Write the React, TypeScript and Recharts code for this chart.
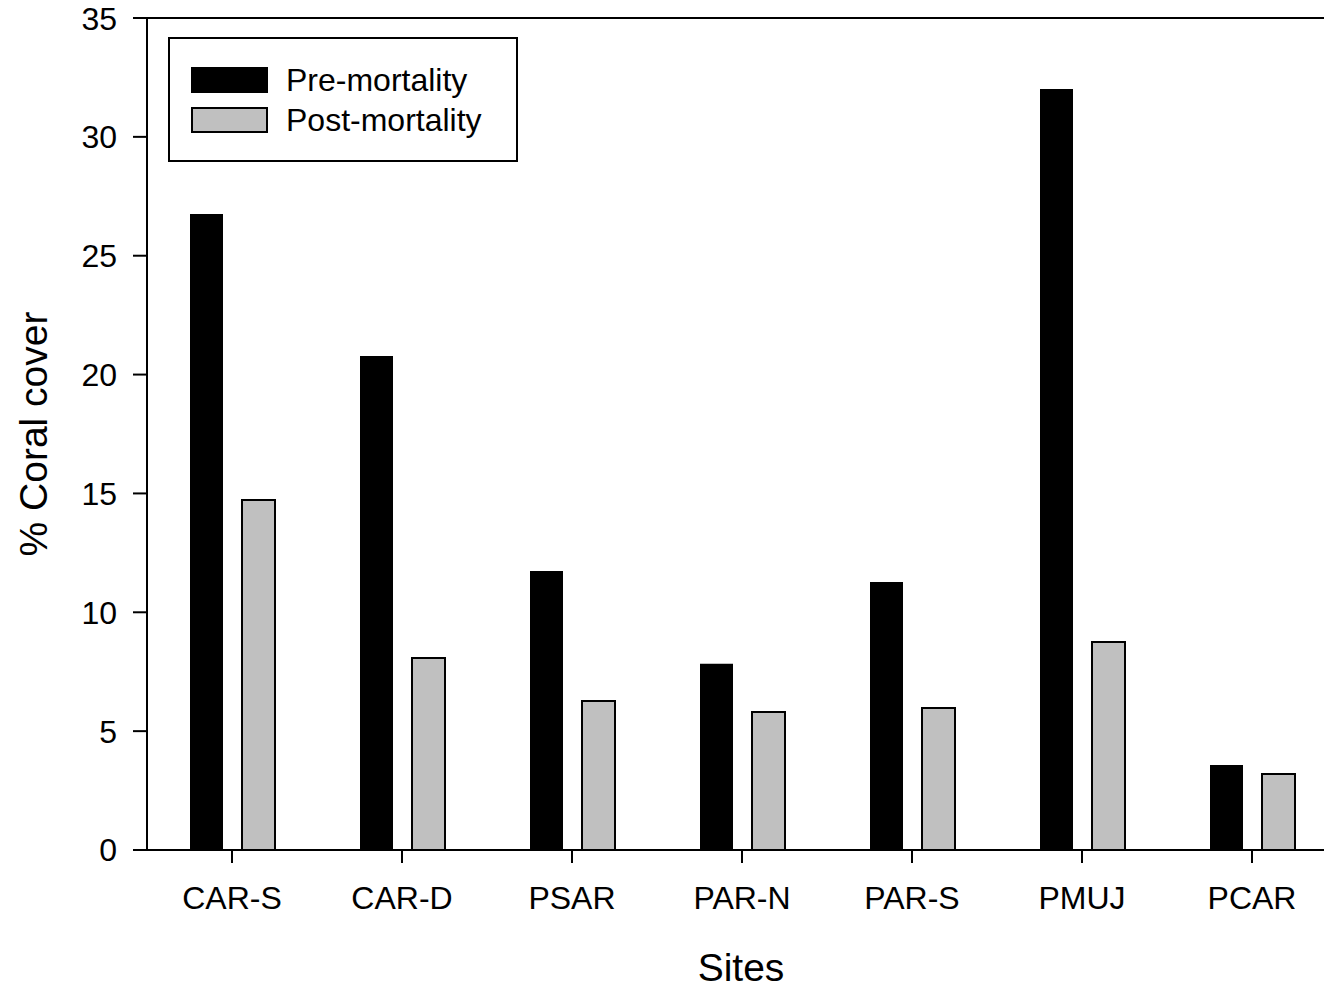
import React from "react";
import {
  Bar,
  XAxis,
  YAxis,
  BarChart,
  ReferenceLine,
} from "recharts";

const sites = ["CAR-S", "CAR-D", "PSAR", "PAR-N", "PAR-S", "PMUJ", "PCAR"];
const preMortality = [26.75, 20.78, 11.74, 7.83, 11.27, 32.01, 3.58];
const postMortality = [14.72, 8.08, 6.27, 5.81, 5.97, 8.75, 3.2];
const yTicks = [0, 5, 10, 15, 20, 25, 30, 35];

const seriesNames = ["Pre-mortality", "Post-mortality"];
const seriesFills = ["#000", "#c0c0c0"];

const FONT = '"Liberation Sans", Arial, sans-serif';

const data = sites.map((site, i) => ({
  site,
  pre: preMortality[i],
  post: postMortality[i],
}));

// boxed legend in the upper left corner of the plot
const LegendBox = () => (
  <svg
    width={350}
    height={125}
    style={{ position: "absolute", left: 168, top: 37, display: "block" }}
  >
    <rect x={1} y={1} width={348} height={123} fill="#fff" stroke="#000" strokeWidth={2} />
    {seriesNames.map((name, i) => (
      <g key={name}>
        <rect
          x={24}
          y={31 + i * 40}
          width={75}
          height={24}
          fill={seriesFills[i]}
          stroke="#000"
          strokeWidth={2}
        />
        <text x={118} y={54 + i * 40} fontSize={32} fontFamily={FONT} fill="#000">
          {name}
        </text>
      </g>
    ))}
  </svg>
);

const App = () => {
  return (
    <div
      style={{
        position: "absolute",
        left: 0,
        top: 0,
        width: 1324,
        height: 988,
        overflow: "hidden",
        background: "#fff",
      }}
    >
      <BarChart
        width={1340}
        height={988}
        data={data}
        margin={{ top: 18, right: 3, bottom: 0, left: 0 }}
        barSize={33}
        barGap={19}
        style={{ fontFamily: FONT }}
      >
        <XAxis
          dataKey="site"
          height={138}
          interval={0}
          tickSize={13}
          tickMargin={23}
          axisLine={{ stroke: "#000", strokeWidth: 2 }}
          tickLine={{ stroke: "#000", strokeWidth: 2 }}
          tick={{ fill: "#000", fontSize: 32, fontFamily: FONT }}
          label={{
            content: () => (
              <text x={741} y={981} textAnchor="middle" fontSize={39} fontFamily={FONT} fill="#000">
                Sites
              </text>
            ),
          }}
        />
        <YAxis
          width={147}
          domain={[0, 35]}
          ticks={yTicks}
          tickSize={14}
          tickMargin={16}
          axisLine={{ stroke: "#000", strokeWidth: 2 }}
          tickLine={{ stroke: "#000", strokeWidth: 2 }}
          tick={{ fill: "#000", fontSize: 32, fontFamily: FONT }}
          label={{
            content: () => (
              <text
                x={47}
                y={434}
                transform="rotate(-90 47 434)"
                textAnchor="middle"
                fontSize={39}
                fontFamily={FONT}
                fill="#000"
              >
                % Coral cover
              </text>
            ),
          }}
        />
        <ReferenceLine y={35} stroke="#000" strokeWidth={2} />
        <Bar
          dataKey="pre"
          name={seriesNames[0]}
          fill={seriesFills[0]}
          isAnimationActive={false}
        />
        <Bar
          dataKey="post"
          name={seriesNames[1]}
          fill={seriesFills[1]}
          stroke="#000"
          strokeWidth={2}
          isAnimationActive={false}
        />
      </BarChart>
      <LegendBox />
    </div>
  );
};

export default App;
